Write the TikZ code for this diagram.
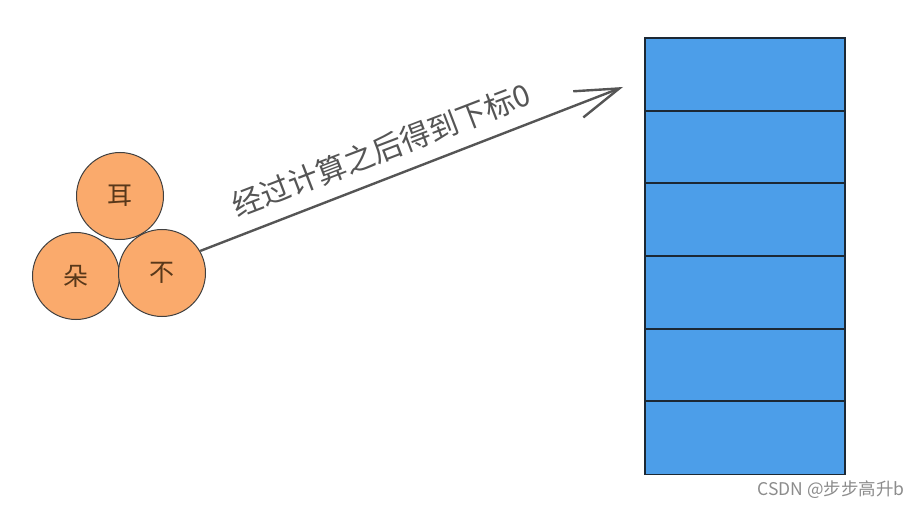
\documentclass[tikz,border=0pt]{standalone}
\usepackage{fontspec}
\usepackage{tikz}
\usepackage{xcolor}
\usetikzlibrary{arrows.meta}
\setmainfont{Noto Sans CJK SC}

\definecolor{ballfill}{RGB}{250,170,108}
\definecolor{balltext}{RGB}{88,56,26}
\definecolor{cellfill}{RGB}{76,158,233}
\definecolor{cellline}{RGB}{28,40,52}
\definecolor{arrowgray}{RGB}{85,85,85}

\tikzset{
  ball/.style={circle,draw=black!75,line width=1pt,fill=ballfill,
    minimum size=87pt,inner sep=0pt,text=balltext,font=\fontsize{25}{25}\selectfont},
  cell/.style={rectangle,fill=cellfill,
    minimum width=200pt,minimum height=72.7pt,inner sep=0pt},
  cellborder/.style={draw=cellline,line width=1.6pt}
}

\begin{document}
\begin{tikzpicture}[x=1pt,y=-1pt]
        \useasboundingbox (0,0) rectangle (924,508);

        % the three keys
        \node[ball] (er)  at (120,196) {耳};
        \node[ball] (duo) at (76,276)  {朵};
        \node[ball] (bu)  at (162,273) {不};

        % the array
        \foreach \i in {0,...,5}
            \node[cell] (c\i) at (745,74.3+72.7*\i) {};
        \foreach \i in {0,...,5}
            \draw[cellborder] (c\i.north west) rectangle (c\i.south east);

        % hash arrow
        \coordinate (tip) at (623,87);
        \draw[arrowgray,line width=2.4pt,-{Straight Barb[length=44pt,width=28pt,line width=2.4pt]}]
              (bu.30) -- (tip);
        \node[text=arrowgray,rotate=21,font=\fontsize{30}{30}\selectfont] (lbl)
              at (381,150) {经过计算之后得到下标0};

        \node[text=black!45,anchor=east,font=\fontsize{17.5}{17.5}\selectfont] (mark)
              at (908,490) {CSDN @步步高升b};
    \end{tikzpicture}
\end{document}
